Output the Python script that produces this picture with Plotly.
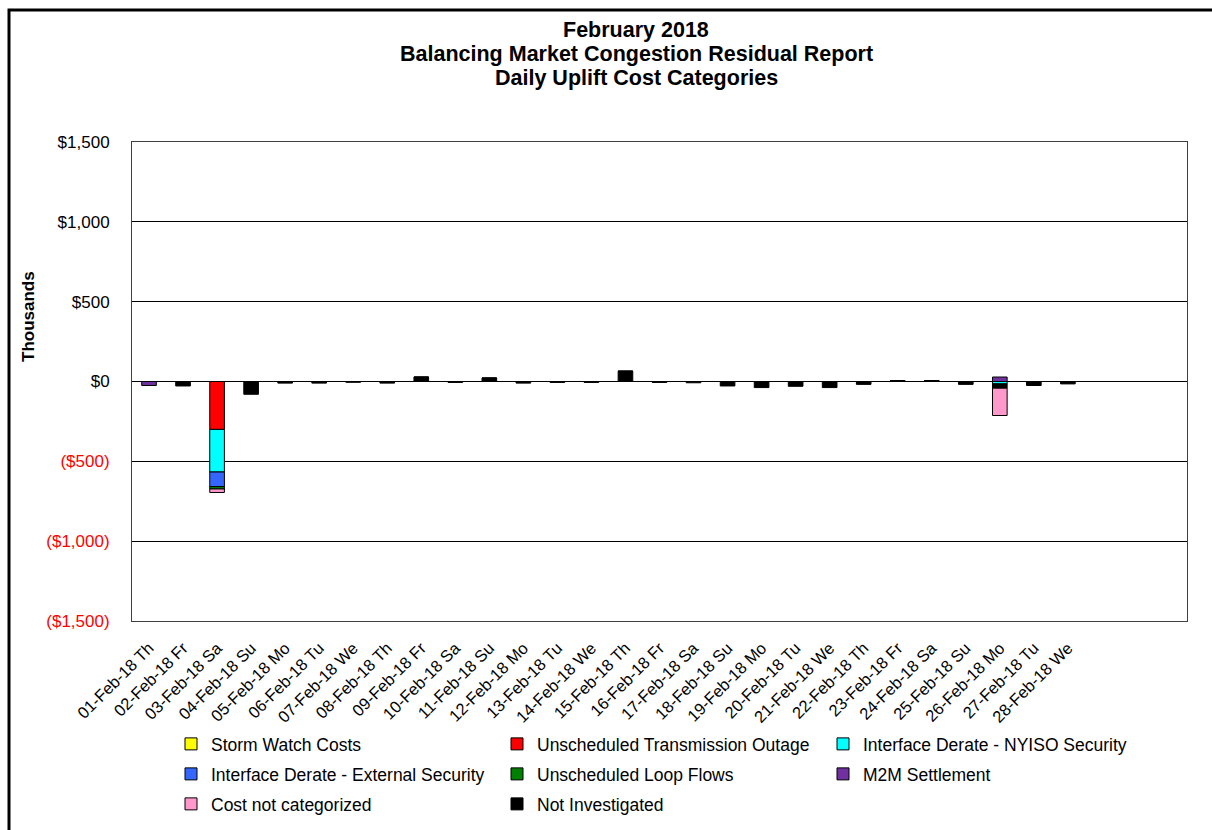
import plotly.graph_objects as go

# ---------------- data (thousands of $) ----------------
days = ["01-Feb-18 Th", "02-Feb-18 Fr", "03-Feb-18 Sa", "04-Feb-18 Su", "05-Feb-18 Mo",
        "06-Feb-18 Tu", "07-Feb-18 We", "08-Feb-18 Th", "09-Feb-18 Fr", "10-Feb-18 Sa",
        "11-Feb-18 Su", "12-Feb-18 Mo", "13-Feb-18 Tu", "14-Feb-18 We", "15-Feb-18 Th",
        "16-Feb-18 Fr", "17-Feb-18 Sa", "18-Feb-18 Su", "19-Feb-18 Mo", "20-Feb-18 Tu",
        "21-Feb-18 We", "22-Feb-18 Th", "23-Feb-18 Fr", "24-Feb-18 Sa", "25-Feb-18 Su",
        "26-Feb-18 Mo", "27-Feb-18 Tu", "28-Feb-18 We"]

storm_watch = [0] * 28
unsched_outage = [0, 0, -300, 0, 0, 0, 0, 0, 0, 0, 0, 0, 0, 0,
                  0, 0, 0, 0, 0, 0, 0, 0, 0, 0, 0, 0, 0, 0]
derate_nyiso = [0, 0, -267, 0, 0, 0, 0, 0, 0, 0, 0, 0, 0, 0,
                0, 0, 0, 0, 0, 0, 0, 0, 0, 0, 0, -15, 0, 0]
derate_external = [0, 0, -91, 0, 0, 0, 0, 0, 0, 0, 0, 0, 0, 0,
                   0, 0, 0, 0, 0, 0, 0, 0, 0, 0, 0, 0, 0, 0]
loop_flows = [0, 0, -15, 0, 0, 0, 0, 0, 0, 0, 0, 0, 0, 0,
              0, 0, 0, 0, 0, 0, 0, 0, 0, 0, 0, 0, 0, 0]
m2m = [-25, 0, 0, 0, 0, 0, 0, 0, 0, 0, 0, 0, 0, 0,
       0, 0, 0, 0, 0, 0, 0, 0, 0, 0, 0, 28, 0, 0]
not_investigated = [0, -28, 0, -80, -10, -10, -5, -10, 28, -6, 22, -10, -6, -6,
                    65, -6, -8, -28, -38, -30, -38, -18, 6, 6, -18, -27, -25, -15]
not_categorized = [0, 0, -22, 0, 0, 0, 0, 0, 0, 0, 0, 0, 0, 0,
                   0, 0, 0, 0, 0, 0, 0, 0, 0, 0, 0, -171, 0, 0]

y_tickvals = [1500, 1000, 500, 0, -500, -1000, -1500]
y_ticktext = ["$1,500", "$1,000", "$500", "$0", "($500)", "($1,000)", "($1,500)"]

title_lines = ["February 2018", "Balancing Market Congestion Residual Report",
               "Daily Uplift Cost Categories"]

FONT = "Arial, Liberation Sans, sans-serif"

# stacking order (trace order), legend rank, legend row
series = [
    ("Storm Watch Costs", storm_watch, "#FFFF00", 1, "legend"),
    ("Unscheduled Transmission Outage", unsched_outage, "#FF0000", 2, "legend"),
    ("Interface Derate - NYISO Security", derate_nyiso, "#00FFFF", 3, "legend"),
    ("Interface Derate - External Security", derate_external, "#3366FF", 4, "legend2"),
    ("Unscheduled Loop Flows", loop_flows, "#008000", 5, "legend2"),
    ("M2M Settlement", m2m, "#7030A0", 6, "legend2"),
    ("Not Investigated", not_investigated, "#000000", 8, "legend3"),
    ("Cost not categorized", not_categorized, "#FF99CC", 7, "legend3"),
]

fig = go.Figure()
for name, vals, color, rank, leg in series:
    fig.add_trace(go.Bar(
        x=days, y=vals, name=name, legendrank=rank, legend=leg,
        marker=dict(color=color, line=dict(color="#000000", width=1)),
    ))

W, H = 1212, 830
L, R, T, B = 132, 25, 142, 209
pw, ph = W - L - R, H - T - B


def px_x(px):
    return (px - L) / pw


def px_y(py):
    return (H - B - py) / ph


ticktext_colored = [t if v >= 0 else "<span style='color:#FF0000'>%s</span>" % t
                    for v, t in zip(y_tickvals, y_ticktext)]

leg_common = dict(orientation="h", xanchor="left", yanchor="middle",
                  font=dict(family=FONT, size=17.5, color="#000000"),
                  entrywidth=281, entrywidthmode="pixels",
                  bgcolor="rgba(0,0,0,0)", traceorder="normal")

annotations = [dict(
    text="<b>Thousands</b>", textangle=-90, showarrow=False,
    xref="paper", yref="paper", x=px_x(28), y=px_y(317),
    xanchor="center", yanchor="middle",
    font=dict(family=FONT, size=17, color="#000000"),
)]
for line, yc in zip(title_lines, [30, 54, 78]):
    annotations.append(dict(
        text="<b>%s</b>" % line, showarrow=False,
        xref="paper", yref="paper", x=px_x(636), y=px_y(yc),
        xanchor="center", yanchor="middle",
        font=dict(family=FONT, size=21.5, color="#000000"),
    ))

fig.update_layout(
    width=W, height=H,
    margin=dict(l=L, r=R, t=T, b=B, autoexpand=False),
    paper_bgcolor="white", plot_bgcolor="white",
    barmode="relative", bargap=0.57,
    font=dict(family=FONT, size=16, color="#000000"),
    xaxis=dict(
        type="category", range=[-0.5, 30.5], tickangle=-45,
        showgrid=False, showline=True, mirror=True, linecolor="#404040", linewidth=1,
        ticks="", ticklabelstandoff=10, tickfont=dict(family=FONT, size=16.5, color="#000000"),
        zeroline=False,
    ),
    yaxis=dict(
        range=[-1500, 1500], tickvals=y_tickvals, ticktext=ticktext_colored,
        showgrid=True, gridcolor="#000000", gridwidth=1,
        zeroline=True, zerolinecolor="#000000", zerolinewidth=1,
        showline=True, mirror=True, linecolor="#404040", linewidth=1,
        ticks="", ticklabelstandoff=18, tickfont=dict(family=FONT, size=17, color="#000000"),
    ),
    legend=dict(x=px_x(171), y=px_y(744), **leg_common),
    legend2=dict(x=px_x(171), y=px_y(774), **leg_common),
    legend3=dict(x=px_x(171), y=px_y(804), **leg_common),
    showlegend=True,
    annotations=annotations,
    shapes=[dict(
        type="rect", xref="paper", yref="paper",
        x0=px_x(9), x1=px_x(1216), y0=px_y(845), y1=px_y(10),
        line=dict(color="#000000", width=3), fillcolor="rgba(0,0,0,0)", layer="above",
    )],
)

fig.write_html(
    "out.html",
    config={"displayModeBar": False},
    post_script="document.body.style.margin='0px';document.body.style.overflow='hidden';",
)
